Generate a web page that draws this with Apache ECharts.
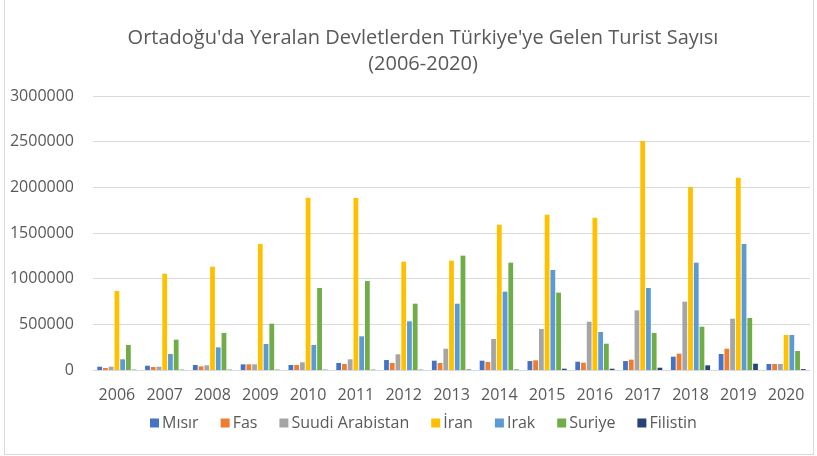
<!DOCTYPE html>
<html>
<head>
<meta charset="utf-8">
<script src="https://cdn.jsdelivr.net/npm/echarts@6/dist/echarts.min.js"></script>
<style>
  html, body { margin: 0; padding: 0; background: #fff; }
  #chart { width: 817px; height: 456px; }
  #frame { position: absolute; left: 4px; top: -2px; width: 808px; height: 455px; border: 1px solid #d9d9d9; pointer-events: none; }
</style>
</head>
<body>
<div id="chart"></div>
<div id="frame"></div>
<script>
// yillar
const years = ['2006','2007','2008','2009','2010','2011','2012','2013','2014','2015','2016','2017','2018','2019','2020']

// ulkelere gore turist sayilari (grafikten okunan tahmini degerler)
const misir    = [36000, 47000, 55000, 62000, 55000, 77000, 109000, 102000, 102000, 98000, 91000, 98000, 146000, 175000, 66000]
const fas      = [22000, 33000, 40000, 62000, 55000, 66000, 77000, 77000, 88000, 106000, 80000, 113000, 179000, 233000, 66000]
const suudi    = [36000, 36000, 51000, 62000, 84000, 117000, 172000, 233000, 340000, 449000, 529000, 653000, 748000, 562000, 66000]
const iran     = [865000, 1054000, 1131000, 1380000, 1887000, 1883000, 1186000, 1197000, 1591000, 1701000, 1668000, 2507000, 2004000, 2106000, 383000]
const irak     = [117000, 175000, 248000, 285000, 274000, 369000, 533000, 726000, 858000, 1095000, 416000, 898000, 1175000, 1380000, 383000]
const suriye   = [274000, 332000, 405000, 507000, 898000, 974000, 726000, 1252000, 1175000, 847000, 288000, 405000, 474000, 569000, 208000]
const filistin = [3000, 3000, 3000, 3000, 3000, 3000, 3000, 5000, 5000, 14000, 14000, 25000, 51000, 69000, 10000]

const seriesNames = ['Mısır', 'Fas', 'Suudi Arabistan', 'İran', 'Irak', 'Suriye', 'Filistin']
const seriesData = [misir, fas, suudi, iran, irak, suriye, filistin]
const colors = ['#4472C4', '#ED7D31', '#A5A5A5', '#FFC000', '#5B9BD5', '#70AD47', '#264478']

const yTicks = [0, 500000, 1000000, 1500000, 2000000, 2500000, 3000000]

const font = '"Open Sans", sans-serif'

let myChart = echarts.init(document.getElementById('chart'))

myChart.setOption({
    animation: false,
    color: colors,
    title: {
        text: "Ortadoğu'da Yeralan Devletlerden Türkiye'ye Gelen Turist Sayısı\n(2006-2020)",
        left: 418,
        top: 20,
        textAlign: 'center',
        textStyle: {
            fontFamily: font,
            fontSize: 20,
            fontWeight: 'normal',
            color: '#595959',
            lineHeight: 26
        }
    },
    legend: {
        data: seriesNames,
        left: 145,
        top: 410,
        itemWidth: 9,
        itemHeight: 9,
        itemGap: 22,
        icon: 'rect',
        textStyle: {
            fontFamily: font,
            fontSize: 16,
            color: '#595959',
            padding: [0, 0, 0, -2]
        }
    },
    grid: {
        left: 93,
        right: 7,
        top: 96,
        bottom: 86,
        containLabel: false
    },
    xAxis: {
        type: 'category',
        data: years,
        axisLine: { show: true, lineStyle: { color: '#d9d9d9', width: 1 } },
        axisTick: { show: false },
        axisLabel: {
            fontFamily: font,
            fontSize: 16,
            color: '#595959',
            margin: 17
        }
    },
    yAxis: {
        type: 'value',
        min: yTicks[0],
        max: yTicks[yTicks.length - 1],
        interval: 500000,
        axisLine: { show: false },
        axisTick: { show: false },
        splitLine: { lineStyle: { color: '#d9d9d9', width: 1 } },
        axisLabel: {
            fontFamily: font,
            fontSize: 16,
            color: '#595959',
            margin: 19,
            formatter: v => String(v)
        }
    },
    series: seriesNames.map((name, i) => ({
        name: name,
        type: 'bar',
        data: seriesData[i],
        barGap: '20%',
        barCategoryGap: '18%'
    }))
})
</script>
</body>
</html>
